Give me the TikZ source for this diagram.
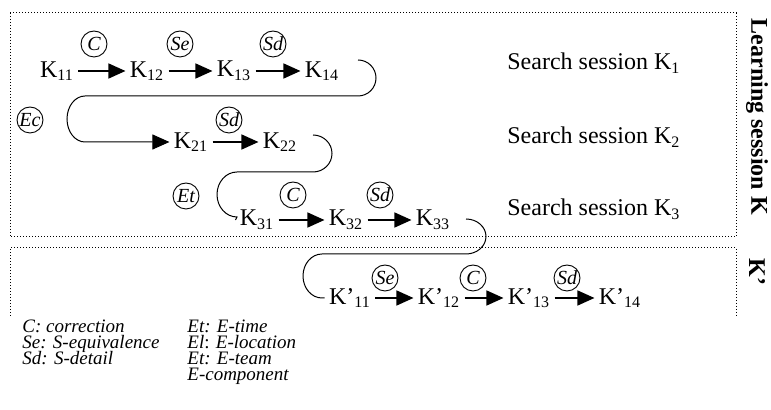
\documentclass[tikz,border=0pt]{standalone}
\usepackage{fontspec}
\setmainfont{Liberation Serif}
\usetikzlibrary{arrows.meta}

\tikzset{
  kstate/.style={inner sep=2pt, font=\fontsize{12}{14}\selectfont},
  kop/.style={draw, circle, line width=0.45pt, minimum size=13pt, inner sep=0pt,
    font=\fontsize{10}{12}\selectfont\itshape},
  kstep/.style={-{Triangle[length=8.5pt,width=7.5pt]}, line width=0.75pt},
  kloop/.style={line width=0.5pt},
  kframe/.style={densely dotted, line width=0.5pt},
  ksession/.style={anchor=west, inner sep=0pt, font=\fontsize{12}{14}\selectfont},
  klegend/.style={anchor=base west, inner sep=0pt, font=\fontsize{9.5}{11}\selectfont\itshape},
}

\begin{document}
\begin{tikzpicture}[x=0.5pt,y=-0.5pt]
\useasboundingbox (0,0) rectangle (771,410);

% the two learning sessions
\draw[kframe] (10,13) rectangle (736,237);
\draw[kframe] (10,316) -- (10,248) -- (736,248) -- (736,318);
\node[rotate=-90, font=\fontsize{12}{14}\selectfont\bfseries] (lsk) at (757,117) {Learning session K};
\node[rotate=-90, font=\fontsize{12}{14}\selectfont\bfseries] (lskp) at (757,272) {K’};

% search session K1
\node[kstate] (k11) at (57,71) {K\textsubscript{11}};
\node[kstate] (k12) at (147,71) {K\textsubscript{12}};
\node[kstate] (k13) at (234,71) {K\textsubscript{13}};
\node[kstate] (k14) at (322,71) {K\textsubscript{14}};
\node[kop] (c1) at (94,44) {C};
\node[kop] (se1) at (180,44) {Se};
\node[kop] (sd1) at (273,44) {Sd};
\draw[kstep] (k11) -- (k12);
\draw[kstep] (k12) -- (k13);
\draw[kstep] (k13) -- (k14);

% search session K2
\node[kstate] (k21) at (191,142) {K\textsubscript{21}};
\node[kstate] (k22) at (280,142) {K\textsubscript{22}};
\node[kop] (ec) at (30,120) {Ec};
\node[kop] (sd2) at (229,120) {Sd};
\draw[kstep] (k21) -- (k22);
\coordinate (t1) at (358,60);
\draw[kloop, kstep, line width=0.5pt] (t1) arc[start angle=-90, end angle=90, radius=18]
  -- (85,96) arc[start angle=270, end angle=90, x radius=18, y radius=23] -- (k21);

% search session K3
\node[kstate] (k31) at (257,220) {K\textsubscript{31}};
\node[kstate] (k32) at (346,220) {K\textsubscript{32}};
\node[kstate] (k33) at (433,220) {K\textsubscript{33}};
\node[kop] (et) at (186,196) {Et};
\node[kop] (c3) at (293,195) {C};
\node[kop] (sd3) at (380,195) {Sd};
\draw[kstep] (k31) -- (k32);
\draw[kstep] (k32) -- (k33);
\coordinate (t2) at (313,135);
\draw[kloop] (t2) arc[start angle=-90, end angle=90, x radius=19, y radius=18.5]
  -- (237,172) arc[start angle=270, end angle=90, x radius=20, y radius=22.5] -- (k31.west);

\node[ksession] (s1) at (507,63) {Search session K\textsubscript{1}};
\node[ksession] (s2) at (507,137) {Search session K\textsubscript{2}};
\node[ksession] (s3) at (507,209) {Search session K\textsubscript{3}};

% learning session K'
\node[kstate] (kp11) at (350,298) {K’\textsubscript{11}};
\node[kstate] (kp12) at (439,298) {K’\textsubscript{12}};
\node[kstate] (kp13) at (529,298) {K’\textsubscript{13}};
\node[kstate] (kp14) at (620,298) {K’\textsubscript{14}};
\node[kop] (se4) at (385,278) {Se};
\node[kop] (c4) at (473,278) {C};
\node[kop] (sd4) at (567,278) {Sd};
\draw[kstep] (kp11) -- (kp12);
\draw[kstep] (kp12) -- (kp13);
\draw[kstep] (kp13) -- (kp14);
\coordinate (t3) at (466,219);
\draw[kloop] (t3) arc[start angle=-90, end angle=90, x radius=20, y radius=17.5]
  -- (322,254) arc[start angle=270, end angle=90, x radius=19, y radius=22] -- (kp11.west);

% legend
\node[klegend] (l1) at (22,333) {C: correction};
\node[klegend] (l2) at (22,349) {Se: S-equivalence};
\node[klegend] (l3) at (22,365) {Sd: S-detail};
\node[klegend] (l4) at (187,333) {Et: E-time};
\node[klegend] (l5) at (187,349) {El\textup{:} E-location};
\node[klegend] (l6) at (187,365) {Et: E-team};
\node[klegend] (l7) at (187,381) {E-component};
\end{tikzpicture}
\end{document}
